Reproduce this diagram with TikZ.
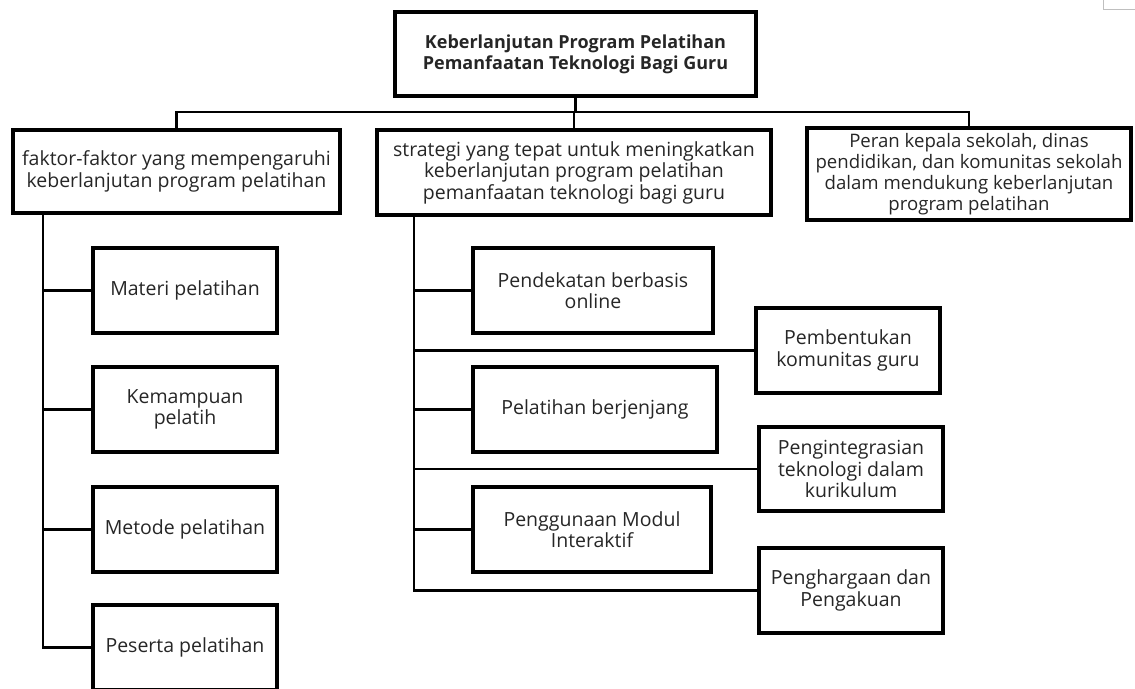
\documentclass[tikz,border=0pt]{standalone}
\usepackage{fontspec}
\setmainfont{Open Sans}
\begin{document}
\begin{tikzpicture}[x=1pt,y=-1pt,
    box/.style={draw, line width=3.5pt, inner sep=0pt, align=center, text=black!85,
      font=\fontsize{19.5}{21.5}\selectfont},
    link/.style={line width=2.2pt}]
  \useasboundingbox (0,0) rectangle (1135,688);

  % judul utama
  \node[box, minimum width=361pt, minimum height=84pt,
    font=\bfseries\fontsize{18}{21}\selectfont] (judul) at (575.5,54)
    {Keberlanjutan Program Pelatihan\\Pemanfaatan Teknologi Bagi Guru};

  % tingkat pertama
  \node[box, minimum width=327pt, minimum height=83pt] (faktor) at (176.5,171.5)
    {faktor-faktor yang mempengaruhi\\keberlanjutan program pelatihan};
  \node[box, minimum width=394pt, minimum height=85pt] (strategi) at (574,172.5)
    {strategi yang tepat untuk meningkatkan\\keberlanjutan program pelatihan\\pemanfaatan teknologi bagi guru};
  \node[box, minimum width=324pt, minimum height=92pt,
    font=\fontsize{18.6}{21.2}\selectfont] (peran) at (969,174)
    {Peran kepala sekolah, dinas\\pendidikan, dan komunitas sekolah\\dalam mendukung keberlanjutan\\program pelatihan};

  % kolom kiri
  \node[box, minimum width=184pt, minimum height=85pt] (materi) at (185,290.5) {Materi pelatihan};
  \node[box, minimum width=184pt, minimum height=85pt] (kemampuan) at (185,409.5) {Kemampuan\\pelatih};
  \node[box, minimum width=184pt, minimum height=85pt] (metode) at (185,529.5) {Metode pelatihan};
  \node[box, minimum width=184pt, minimum height=85pt] (peserta) at (185,647.5) {Peserta pelatihan};

  % kolom tengah
  \node[box, minimum width=240pt, minimum height=85pt] (pendekatan) at (593,290.5) {Pendekatan berbasis\\online};
  \node[box, minimum width=244pt, minimum height=85pt] (berjenjang) at (595,409.5) {Pelatihan berjenjang};
  \node[box, minimum width=238pt, minimum height=85pt] (modul) at (592,529.5) {Penggunaan Modul\\Interaktif};

  % kolom kanan
  \node[box, minimum width=184pt, minimum height=85pt] (komunitas) at (848,350.5) {Pembentukan\\komunitas guru};
  \node[box, minimum width=184pt, minimum height=84pt] (integrasi) at (851,469) {Pengintegrasian\\teknologi dalam\\kurikulum};
  \node[box, minimum width=184pt, minimum height=85pt] (penghargaan) at (851,590.5) {Penghargaan dan\\Pengakuan};

  % garis penghubung
  \coordinate (bus) at (0,112);
  \coordinate (kiri) at (43,0);
  \coordinate (tengah) at (414,0);
  \draw[link] (judul.south) -- (judul.south |- bus);
  \draw[link] (faktor.north) -- (faktor.north |- bus) -- (peran.north |- bus) -- (peran.north);
  \draw[link] (strategi.north |- bus) -- (strategi.north);

  \draw[link] (faktor.south -| kiri) |- (peserta.west);
  \foreach \n in {materi,kemampuan,metode}
    \draw[link] (\n.west -| kiri) -- (\n.west);

  \draw[link] (strategi.south -| tengah) |- (penghargaan.west);
  \foreach \n in {pendekatan,berjenjang,modul,komunitas,integrasi}
    \draw[link] (\n.west -| tengah) -- (\n.west);

  % sisa bingkai di pojok
  \draw[gray!50, line width=1pt] (1103,-2) |- (1140,9);
\end{tikzpicture}
\end{document}
